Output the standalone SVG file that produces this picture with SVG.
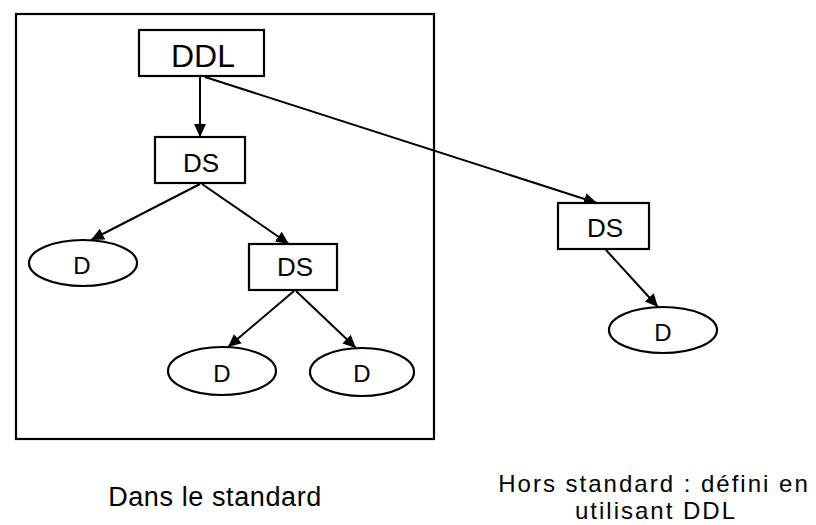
<svg xmlns="http://www.w3.org/2000/svg" width="816" height="525" viewBox="0 0 816 525">
<style>
.box{fill:#fff;stroke:#000;stroke-width:2.2}
.ell{fill:#fff;stroke:#000;stroke-width:2.2}
.lbl{font-family:"Liberation Sans",Arial,sans-serif;fill:#000;text-anchor:middle}
.edge{stroke:#000;stroke-width:2;fill:none;marker-end:url(#ah)}
</style>
<defs>
<marker id="ah" markerUnits="userSpaceOnUse" markerWidth="14" markerHeight="14" viewBox="0 0 14 14" refX="13" refY="7" orient="auto">
<path d="M0,1 L13,7 L0,13 Z" fill="#000"/>
</marker>
</defs>
<rect id="frame" x="16" y="14" width="418" height="425" fill="none" stroke="#000" stroke-width="2.2"/>
<g id="connectors">
<line class="edge" x1="200" y1="77" x2="200" y2="137"/>
<line class="edge" x1="205" y1="77" x2="597" y2="203"/>
<line class="edge" x1="200" y1="184" x2="91" y2="240"/>
<line class="edge" x1="202" y1="184" x2="289" y2="244"/>
<line class="edge" x1="294" y1="291" x2="228" y2="347"/>
<line class="edge" x1="296" y1="291" x2="356" y2="348"/>
<line class="edge" x1="606" y1="250" x2="658" y2="307"/>
</g>
<g id="ddl"><rect class="box" x="139" y="30" width="125" height="46"/><text class="lbl" x="203" y="67" font-size="32">DDL</text></g>
<g id="ds1"><rect class="box" x="155" y="137" width="90" height="46"/><text class="lbl" x="201" y="172" font-size="26">DS</text></g>
<g id="ds2"><rect class="box" x="249" y="244" width="88" height="46"/><text class="lbl" x="295" y="276" font-size="26">DS</text></g>
<g id="ds3"><rect class="box" x="558" y="203" width="91" height="46"/><text class="lbl" x="605" y="237" font-size="26">DS</text></g>
<g id="d1"><ellipse class="ell" cx="83" cy="263" rx="54" ry="23"/><text class="lbl" x="82" y="274" font-size="24">D</text></g>
<g id="d2"><ellipse class="ell" cx="222" cy="371" rx="54" ry="24"/><text class="lbl" x="222" y="382" font-size="24">D</text></g>
<g id="d3"><ellipse class="ell" cx="362" cy="372" rx="52" ry="24"/><text class="lbl" x="362" y="382" font-size="24">D</text></g>
<g id="d4"><ellipse class="ell" cx="663" cy="330" rx="54" ry="23"/><text class="lbl" x="663" y="341" font-size="24">D</text></g>
<g id="captions">
<text class="lbl" x="215" y="506" font-size="27" letter-spacing="0.6">Dans le standard</text>
<text class="lbl" x="654" y="492" font-size="24" letter-spacing="2">Hors standard : défini en</text>
<text class="lbl" x="656" y="519" font-size="24" letter-spacing="2">utilisant DDL</text>
</g>
</svg>
